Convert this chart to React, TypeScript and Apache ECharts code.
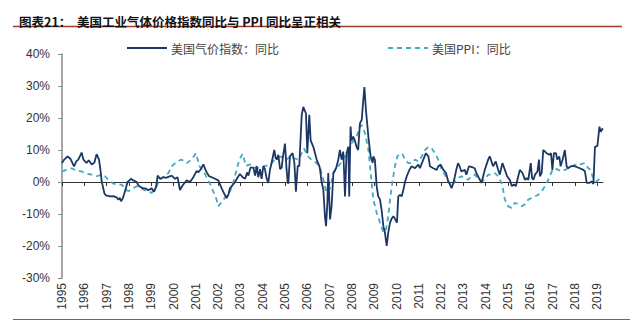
import React, { useEffect, useRef } from "react";
import * as echarts from "echarts";

const years = [1995,1996,1997,1998,1999,2000,2001,2002,2003,2004,2005,2006,2007,2008,2009,2010,2011,2012,2013,2014,2015,2016,2017,2018,2019];
const yTicks = [-30, -20, -10, 0, 10, 20, 30, 40];

const gasDates = [1995.00,1995.10,1995.25,1995.38,1995.54,1995.65,1995.73,1995.88,1995.96,1996.10,1996.20,1996.33,1996.45,1996.55,1996.66,1996.73,1996.78,1996.90,1996.97,1997.15,1997.30,1997.45,1997.53,1997.60,1997.65,1997.72,1997.78,1997.86,1997.94,1998.02,1998.09,1998.20,1998.35,1998.42,1998.50,1998.65,1998.75,1998.87,1999.02,1999.13,1999.22,1999.29,1999.39,1999.54,1999.66,1999.77,1999.92,2000.07,2000.18,2000.29,2000.37,2000.44,2000.59,2000.66,2000.74,2000.89,2001.04,2001.11,2001.22,2001.34,2001.42,2001.49,2001.60,2001.71,2001.86,2002.01,2002.16,2002.30,2002.38,2002.46,2002.53,2002.65,2002.76,2002.88,2002.98,2003.10,2003.21,2003.30,2003.36,2003.45,2003.58,2003.66,2003.73,2003.80,2003.88,2003.95,2004.03,2004.10,2004.18,2004.25,2004.33,2004.40,2004.52,2004.58,2004.63,2004.70,2004.78,2004.85,2004.90,2005.00,2005.07,2005.12,2005.15,2005.22,2005.34,2005.42,2005.49,2005.57,2005.64,2005.75,2005.82,2005.94,2006.00,2006.09,2006.15,2006.27,2006.42,2006.54,2006.57,2006.64,2006.72,2006.79,2006.84,2006.90,2006.94,2007.02,2007.09,2007.17,2007.29,2007.39,2007.46,2007.54,2007.61,2007.64,2007.69,2007.76,2007.84,2007.88,2007.94,2007.98,2008.06,2008.13,2008.21,2008.28,2008.36,2008.44,2008.51,2008.56,2008.63,2008.74,2008.84,2008.93,2008.96,2009.03,2009.11,2009.18,2009.26,2009.33,2009.41,2009.48,2009.56,2009.63,2009.71,2009.78,2009.86,2009.93,2010.02,2010.08,2010.16,2010.23,2010.31,2010.38,2010.46,2010.58,2010.68,2010.83,2010.98,2011.05,2011.20,2011.32,2011.43,2011.50,2011.65,2011.80,2011.87,2011.98,2012.10,2012.22,2012.32,2012.40,2012.47,2012.55,2012.62,2012.68,2012.76,2012.83,2012.91,2013.06,2013.13,2013.25,2013.36,2013.51,2013.58,2013.70,2013.81,2013.96,2014.11,2014.18,2014.26,2014.33,2014.45,2014.56,2014.63,2014.75,2014.86,2014.96,2015.08,2015.17,2015.26,2015.35,2015.46,2015.53,2015.65,2015.76,2015.84,2015.91,2016.02,2016.08,2016.14,2016.21,2016.32,2016.39,2016.43,2016.51,2016.58,2016.66,2016.73,2016.85,2016.93,2016.99,2017.06,2017.15,2017.21,2017.30,2017.36,2017.45,2017.55,2017.63,2017.70,2017.81,2017.93,2018.08,2018.22,2018.38,2018.45,2018.53,2018.65,2018.75,2018.83,2018.90,2019.01,2019.10,2019.16,2019.25];
const gasValues = [5.9,7.0,8.0,7.2,4.9,6.5,7.0,9.2,7.0,6.0,6.8,5.5,6.0,8.7,7.0,3.5,0.2,-3.5,-4.2,-4.5,-4.4,-4.8,-5.5,-5.0,-6.0,-5.2,-4.0,-2.0,0.0,0.5,1.0,0.5,0.0,-1.0,-1.5,-2.0,-2.0,-2.6,-2.0,-3.0,-1.5,2.0,1.0,1.5,1.3,1.6,2.0,1.0,1.5,-2.5,-1.5,-0.8,0.5,0.3,0.0,1.5,3.5,3.0,4.0,5.5,4.0,3.0,1.8,1.5,1.0,0.5,-2.0,-4.0,-5.0,-4.0,-2.0,-1.0,0.0,1.5,2.5,1.5,1.0,3.0,2.0,4.5,4.5,2.0,5.0,1.5,4.0,1.0,5.0,4.0,1.0,-0.3,4.0,6.0,10.0,7.5,7.0,8.5,4.0,4.5,7.5,12.0,4.0,0.0,-0.5,8.0,9.0,6.0,-3.0,5.0,5.0,21.0,23.5,21.4,9.0,21.0,13.0,11.0,7.0,5.0,4.0,0.0,-2.4,-10.7,-13.8,-6.5,2.8,-11.7,-7.5,2.8,4.3,7.0,10.0,7.0,9.5,5.0,-4.5,9.0,11.0,-4.5,17.3,13.0,14.2,13.0,11.0,10.0,18.3,19.4,25.6,29.7,22.5,14.0,8.0,6.0,8.0,7.0,-1.3,-4.5,-5.5,-8.6,-13.8,-15.8,-20.0,-15.8,-12.7,-11.5,-10.7,-11.5,-12.7,-4.5,-4.0,-4.5,-2.4,0.0,1.8,3.8,4.9,4.3,5.4,4.3,7.0,9.0,8.0,4.9,4.3,3.8,4.9,5.4,3.8,2.8,0.2,-0.8,-1.9,-0.3,1.8,3.8,5.9,4.9,3.3,3.8,2.3,4.9,4.7,4.3,2.8,1.2,-0.3,3.8,7.0,8.0,6.4,4.9,6.4,3.8,2.3,5.9,3.8,1.8,0.7,-1.3,-0.8,-1.3,1.8,3.8,2.8,0.7,1.2,0.7,5.9,1.2,0.7,2.3,3.3,7.0,1.8,2.8,10.0,9.5,9.0,8.5,9.0,3.8,9.0,9.0,7.0,8.0,4.9,7.0,10.0,4.9,4.3,4.9,5.0,4.7,4.3,3.8,3.3,-0.3,-0.3,0.2,-0.6,11.0,11.3,17.3,15.7,16.8];

const ppiDates = [1995.00,1995.21,1995.43,1995.66,1995.88,1996.03,1996.18,1996.33,1996.55,1996.78,1996.93,1997.10,1997.30,1997.50,1997.68,1997.85,1997.98,1998.12,1998.35,1998.50,1998.80,1999.02,1999.20,1999.39,1999.62,1999.77,1999.92,2000.14,2000.36,2000.59,2000.81,2001.01,2001.16,2001.37,2001.60,2001.81,2001.93,2002.01,2002.24,2002.53,2002.68,2002.83,2002.95,2003.10,2003.25,2003.43,2003.65,2003.88,2004.10,2004.33,2004.55,2004.78,2005.07,2005.22,2005.37,2005.60,2005.75,2005.85,2006.03,2006.18,2006.42,2006.57,2006.72,2006.87,2007.02,2007.17,2007.39,2007.61,2007.84,2007.98,2008.21,2008.36,2008.44,2008.59,2008.74,2008.84,2008.96,2009.11,2009.26,2009.41,2009.53,2009.63,2009.71,2009.83,2009.93,2010.04,2010.16,2010.28,2010.38,2010.53,2010.68,2010.83,2010.98,2011.13,2011.28,2011.43,2011.58,2011.73,2011.87,2012.02,2012.17,2012.32,2012.47,2012.62,2012.76,2012.91,2013.06,2013.21,2013.36,2013.51,2013.66,2013.81,2013.96,2014.11,2014.26,2014.41,2014.56,2014.71,2014.78,2014.86,2015.01,2015.16,2015.31,2015.46,2015.61,2015.76,2015.91,2016.06,2016.21,2016.36,2016.51,2016.66,2016.81,2016.96,2017.10,2017.25,2017.40,2017.55,2017.70,2017.85,2018.00,2018.15,2018.30,2018.45,2018.60,2018.71,2018.83,2018.98,2019.13,2019.25];
const ppiValues = [3.3,3.8,4.3,3.5,3.3,2.8,2.5,2.3,1.8,2.3,1.8,0.5,-0.5,-0.8,-0.8,-2.4,-2.9,-2.2,-1.3,-1.8,-2.9,-3.4,-1.8,0.7,2.0,2.8,4.9,6.4,7.0,5.9,7.0,9.0,5.0,3.0,0.0,-3.4,-5.5,-7.6,-5.5,-3.0,0.0,3.8,7.0,8.8,5.0,5.5,4.5,4.3,5.0,5.4,7.0,8.0,7.0,8.0,7.5,7.0,9.0,10.5,8.0,7.0,5.9,4.5,0.7,-3.4,-2.0,2.8,4.9,7.0,10.0,12.0,14.2,17.3,17.8,15.2,10.0,2.8,-5.5,-9.6,-12.7,-15.8,-14.8,-10.7,-5.5,0.7,4.9,8.0,9.0,8.5,7.0,5.9,5.9,7.0,6.4,8.0,10.0,11.0,10.5,9.0,7.0,3.8,2.3,0.2,-1.3,0.2,1.2,1.8,1.2,0.7,1.8,2.3,1.2,0.2,0.7,2.3,2.3,2.8,1.8,-0.3,-2.4,-5.5,-7.6,-8.1,-6.5,-7.0,-7.6,-7.0,-5.5,-5.0,-4.5,-4.0,-2.9,-1.3,0.7,3.3,4.3,3.8,3.3,3.8,4.3,4.9,5.4,5.1,5.7,5.9,4.3,3.8,0.7,0.2,1.2,0.9];

const titleText = "图表21：  美国工业气体价格指数同比与 PPI 同比呈正相关";
const gasName = "美国气价指数：同比";
const ppiName = "美国PPI：同比";

const GAS_COLOR = "#1c3766";
const PPI_COLOR = "#45a9bf";

export default function App() {
  const ref = useRef<HTMLDivElement>(null);
  useEffect(() => {
    if (!ref.current) return;
    const chart = echarts.init(ref.current, null, { renderer: "svg" });
    const gasData = gasDates.map((d, i) => [d, gasValues[i]]);
    const ppiData = ppiDates.map((d, i) => [d, ppiValues[i]]);
    const xMin = 1995;
    const xMax = 2019.26;
    const legendFont = { fontFamily: "Noto Sans CJK SC", fontSize: 12, fill: "#444" };
    chart.setOption({
      animation: false,
      backgroundColor: "#ffffff",
      title: {
        text: titleText,
        left: 14,
        top: 10,
        textStyle: { fontFamily: "Noto Sans CJK SC", fontSize: 12.5, fontWeight: "bold", color: "#111" },
      },
      graphic: [
        { type: "line", shape: { x1: 13, y1: 26.5, x2: 622, y2: 26.5 }, style: { stroke: "#a33a2c", lineWidth: 1.5 } },
        { type: "line", shape: { x1: 13, y1: 319.5, x2: 630, y2: 319.5 }, style: { stroke: "#b8473a", lineWidth: 1 } },
        { type: "line", shape: { x1: 127, y1: 48, x2: 167, y2: 48 }, style: { stroke: GAS_COLOR, lineWidth: 1.8 } },
        { type: "text", x: 171, y: 48, style: { text: gasName, ...legendFont, verticalAlign: "middle" } },
        { type: "line", shape: { x1: 388, y1: 48, x2: 428, y2: 48 }, style: { stroke: PPI_COLOR, lineWidth: 1.8, lineDash: [5, 4] } },
        { type: "text", x: 432, y: 48, style: { text: ppiName, ...legendFont, verticalAlign: "middle" } },
      ],
      grid: { left: 62, right: 37, top: 54, bottom: 47, containLabel: false },
      xAxis: [
        {
          type: "value",
          min: xMin,
          max: xMax,
          position: "bottom",
          axisLine: { show: false, onZero: false },
          axisTick: { show: false },
          splitLine: { show: false },
          axisLabel: {
            customValues: years,
            rotate: 90,
            margin: 5,
            fontFamily: "Liberation Sans",
            fontSize: 12,
            color: "#333",
            formatter: (v: number) => String(Math.round(v)),
          },
        },
        {
          type: "value",
          min: xMin,
          max: xMax,
          position: "bottom",
          axisLine: { show: true, onZero: true, lineStyle: { color: "#333", width: 1 } },
          axisTick: { show: true, customValues: years, length: 4, lineStyle: { color: "#333" } },
          axisLabel: { show: false },
          splitLine: { show: false },
        },
      ],
      yAxis: {
        type: "value",
        min: -30,
        max: 40,
        interval: 10,
        axisLine: { show: true, onZero: false, lineStyle: { color: "#888", width: 1.5 } },
        axisTick: { show: true, length: 4, lineStyle: { color: "#888" } },
        splitLine: { show: false },
        axisLabel: {
          margin: 12,
          fontFamily: "Liberation Sans",
          fontSize: 12,
          color: "#333",
          formatter: (v: number) => (yTicks.includes(v) ? v + "%" : ""),
        },
      },
      series: [
        {
          name: gasName,
          type: "line",
          xAxisIndex: 0,
          data: gasData,
          symbol: "none",
          lineStyle: { color: GAS_COLOR, width: 1.8 },
          itemStyle: { color: GAS_COLOR },
          z: 3,
        },
        {
          name: ppiName,
          type: "line",
          xAxisIndex: 0,
          data: ppiData,
          symbol: "none",
          lineStyle: { color: PPI_COLOR, width: 1.8, type: [5, 4] },
          itemStyle: { color: PPI_COLOR },
          z: 2,
        },
      ],
    });
    return () => chart.dispose();
  }, []);
  return <div ref={ref} style={{ position: "fixed", left: 0, top: 0, width: 640, height: 325, background: "#fff" }} />;
}
